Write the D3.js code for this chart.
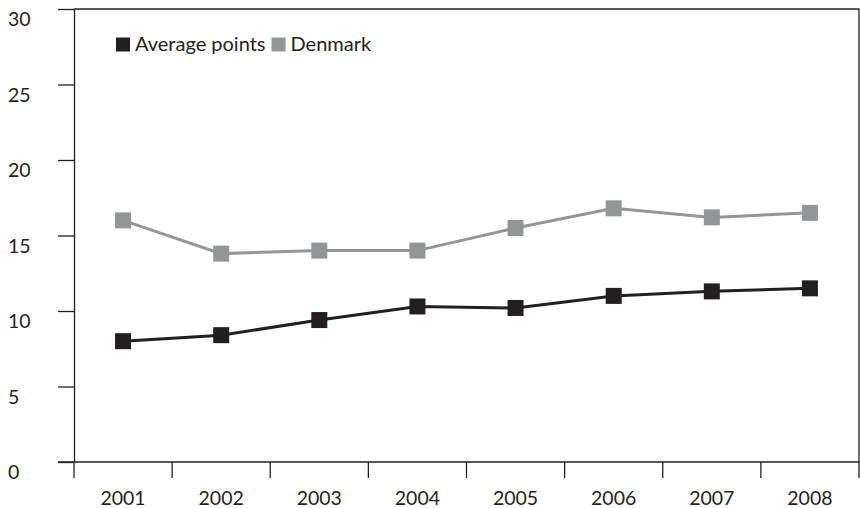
<!DOCTYPE html>
<html><head><meta charset="utf-8">
<script src="https://cdn.jsdelivr.net/npm/d3@7"></script>
<style>body{margin:0;background:#fff}svg{display:block}text{font-family:Lato,"Open Sans",sans-serif;fill:#231f20}</style>
</head><body><div id="c"></div>
<script>
const years = ["2001","2002","2003","2004","2005","2006","2007","2008"];
const averagePoints = [8.0, 8.4, 9.4, 10.3, 10.2, 11.0, 11.3, 11.5];
const denmark = [16.0, 13.8, 14.0, 14.0, 15.5, 16.8, 16.2, 16.5];
const yTicks = [0, 5, 10, 15, 20, 25, 30];
const seriesNames = ["Average points", "Denmark"];
const colors = ["#231f20", "#939598"];

const W = 860, H = 508;
const svg = d3.select("#c").append("svg").attr("width", W).attr("height", H);
const x = d3.scaleBand().domain(years).range([74, 859]);
const y = d3.scaleLinear().domain([0, 30]).range([462, 9]);
const ink = "#231f20";

// Frame: top and right
svg.append("line").attr("x1", 74).attr("x2", 859.5).attr("y1", y(30)).attr("y2", y(30)).attr("stroke", ink).attr("stroke-width", 1.3);
svg.append("line").attr("x1", 859).attr("x2", 859).attr("y1", y(30)).attr("y2", y(0)).attr("stroke", ink).attr("stroke-width", 1.3);

// Y axis
const gy = svg.append("g").attr("transform", "translate(74,0)")
  .call(d3.axisLeft(y).tickValues(yTicks).tickSize(16).tickSizeOuter(0));
gy.select(".domain").attr("stroke", ink).attr("stroke-width", 1.3);
gy.selectAll(".tick line").attr("stroke", ink).attr("stroke-width", 1.3);
gy.selectAll(".tick text").attr("x", -66).attr("dy", "0.85em").attr("text-anchor", "start")
  .style("font-size", "19.5px").style("font-family", "Lato, sans-serif").attr("fill", ink);

// X axis
const gx = svg.append("g").attr("transform", "translate(0,462)")
  .call(d3.axisBottom(x).tickSize(0).tickPadding(29));
gx.select(".domain").remove();
gx.selectAll(".tick text").style("font-size", "19.5px").style("font-family", "Lato, sans-serif").attr("fill", ink);
svg.append("line").attr("x1", 58).attr("x2", 859.5).attr("y1", 462).attr("y2", 462).attr("stroke", ink).attr("stroke-width", 1.3);
const bounds = years.map(d => x(d)).concat([x.range()[1]]);
svg.append("g").selectAll("line").data(bounds).join("line")
  .attr("x1", d => d).attr("x2", d => d).attr("y1", 462).attr("y2", 478)
  .attr("stroke", ink).attr("stroke-width", 1.3);

// Series
const series = [averagePoints, denmark];
const line = d3.line().x((d, i) => x(years[i]) + x.bandwidth() / 2).y(d => y(d));
[1, 0].forEach(k => {
  const g = svg.append("g");
  g.append("path").datum(series[k]).attr("d", line).attr("fill", "none")
    .attr("stroke", colors[k]).attr("stroke-width", 3);
  g.selectAll("rect").data(series[k]).join("rect")
    .attr("x", (d, i) => x(years[i]) + x.bandwidth() / 2 - 8)
    .attr("y", d => y(d) - 8).attr("width", 16).attr("height", 16)
    .attr("fill", colors[k]);
});

// Legend
let lx = 116;
seriesNames.forEach((n, k) => {
  svg.append("rect").attr("x", lx).attr("y", 37.5).attr("width", 14).attr("height", 14).attr("fill", colors[k]);
  const t = svg.append("text").attr("x", lx + 19).attr("y", 51).text(n)
    .style("font-size", "20px").attr("fill", ink);
  lx += 19 + t.node().getComputedTextLength() + 6;
});
</script></body></html>
